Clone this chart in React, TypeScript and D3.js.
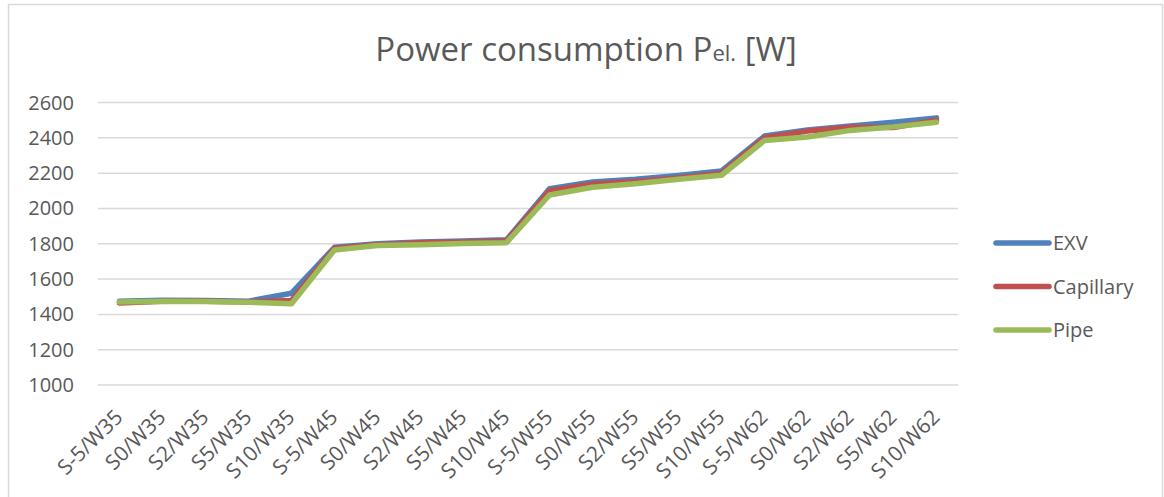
import React from 'react';
import * as d3 from 'd3';

const categories = [
  'S-5/W35', 'S0/W35', 'S2/W35', 'S5/W35', 'S10/W35',
  'S-5/W45', 'S0/W45', 'S2/W45', 'S5/W45', 'S10/W45',
  'S-5/W55', 'S0/W55', 'S2/W55', 'S5/W55', 'S10/W55',
  'S-5/W62', 'S0/W62', 'S2/W62', 'S5/W62', 'S10/W62',
];

const exv = [
  1475, 1480, 1478, 1475, 1520,
  1780, 1800, 1810, 1815, 1822,
  2112, 2150, 2165, 2187, 2212,
  2410, 2445, 2467, 2488, 2513,
];
const capillary = [
  1465, 1475, 1475, 1470, 1478,
  1775, 1795, 1805, 1810, 1816,
  2100, 2138, 2152, 2172, 2200,
  2400, 2438, 2460, 2458, 2500,
];
const pipe = [
  1470, 1475, 1473, 1468, 1460,
  1765, 1790, 1795, 1802, 1806,
  2076, 2120, 2140, 2165, 2188,
  2385, 2405, 2442, 2462, 2488,
];

const yTicks = [1000, 1200, 1400, 1600, 1800, 2000, 2200, 2400, 2600];

const series = [
  { name: 'EXV', values: exv, color: '#4F81BD' },
  { name: 'Capillary', values: capillary, color: '#C0504D' },
  { name: 'Pipe', values: pipe, color: '#9BBB59' },
];

const W = 1164;
const H = 497;
const TEXT = '#595959';
const FONT = '"Open Sans", sans-serif';

export default function App() {
  const x = d3.scaleBand<string>().domain(categories).range([98, 958]);
  const y = d3.scaleLinear().domain([1000, 2600]).range([385, 102.5]);
  const cx = (c: string) => (x(c) ?? 0) + x.bandwidth() / 2;

  const line = d3
    .line<number>()
    .x((_, i) => cx(categories[i]))
    .y(d => y(d));

  return (
    <svg
      width={W}
      height={H}
      style={{ position: 'absolute', left: 0, top: 0 }}
      fontFamily={FONT}
    >
      <rect x={0} y={0} width={W} height={H} fill="#fff" />
      <rect x={8.5} y={4.5} width={1154} height={520} fill="#fff" stroke="#D9D9D9" strokeWidth={1.5} />

      <text x={586} y={61} textAnchor="middle" fontSize={33} fill={TEXT}>
        Power consumption P<tspan fontSize={22}>el.</tspan> [W]
      </text>

      {yTicks.map(t => (
        <g key={t}>
          <line x1={98} x2={958} y1={y(t)} y2={y(t)} stroke="#D9D9D9" strokeWidth={1.5} />
          <text x={74} y={y(t)} dy="0.35em" textAnchor="end" fontSize={20} fill={TEXT}>
            {t}
          </text>
        </g>
      ))}

      {categories.map(c => (
        <text
          key={c}
          transform={`translate(${cx(c) - 6},${408}) rotate(-45)`}
          textAnchor="end"
          dy="0.7em"
          fontSize={21}
          fill={TEXT}
        >
          {c}
        </text>
      ))}

      {series.map(s => (
        <path
          key={s.name}
          d={line(s.values) ?? ''}
          fill="none"
          stroke={s.color}
          strokeWidth={5.5}
          strokeLinejoin="round"
          strokeLinecap="round"
        />
      ))}

      {series.map((s, i) => {
        const ly = 243 + i * 43.5;
        return (
          <g key={s.name}>
            <line x1={996} x2={1049} y1={ly} y2={ly} stroke={s.color} strokeWidth={5.5} strokeLinecap="round" />
            <text x={1053} y={ly} dy="0.35em" fontSize={20} fill={TEXT}>
              {s.name}
            </text>
          </g>
        );
      })}
    </svg>
  );
}
